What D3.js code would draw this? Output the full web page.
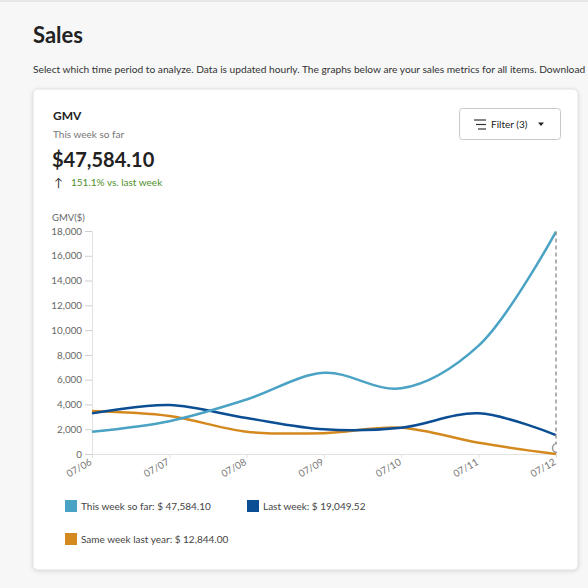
<!DOCTYPE html>
<html><head><meta charset="utf-8">
<script src="https://cdn.jsdelivr.net/npm/d3@7"></script>
<style>
html,body{margin:0;padding:0;background:#f7f7f7;}
svg{display:block;font-family:Lato,"Open Sans",sans-serif;}
</style></head>
<body>
<svg id="chart" width="588" height="588"></svg>
<script>
const dates = ["07/06","07/07","07/08","07/09","07/10","07/11","07/12"];
const thisWeek = [1800, 2650, 4400, 6550, 5300, 8750, 17950];
const lastWeek = [3280, 3950, 2900, 1990, 2120, 3280, 1530];
const lastYear = [3470, 3070, 1800, 1680, 2120, 900, 0];
const yTicks = [0,2000,4000,6000,8000,10000,12000,14000,16000,18000];
const seriesNames = ["This week so far: $ 47,584.10","Last week: $ 19,049.52","Same week last year: $ 12,844.00"];
const seriesColors = ["#4aa2c4","#0b4e93","#d4891f"];

const svg = d3.select("#chart");
svg.append("rect").attr("x",0).attr("y",0).attr("width",588).attr("height",2).attr("fill","#e6e6e6");
svg.append("text").attr("x",33).attr("y",43).attr("font-size",22).attr("font-weight",700).attr("fill","#222").text("Sales");
const sub = svg.append("text").attr("x",33).attr("y",73).attr("font-size",10.3).attr("fill","#333")
  .text("Select which time period to analyze. Data is updated hourly. The graphs below are your sales metrics for all items. Download");
const subLen = sub.node().getComputedTextLength();
if (subLen > 553) sub.attr("font-size", 10.3 * 553 / subLen);

svg.append("rect").attr("x",33).attr("y",89).attr("width",545).attr("height",481).attr("rx",5)
  .attr("fill","#fff").attr("stroke","#e3e3e3").attr("stroke-width",1)
  .style("filter","drop-shadow(0 1px 2px rgba(0,0,0,0.12))");

svg.append("text").attr("x",53).attr("y",120).attr("font-size",12).attr("font-weight",700).attr("fill","#222").text("GMV");
svg.append("text").attr("x",53).attr("y",138).attr("font-size",10).attr("fill","#777").text("This week so far");
svg.append("text").attr("x",52).attr("y",167).attr("font-size",20).attr("font-weight",700).attr("fill","#222").text("$47,584.10");
svg.append("text").attr("x",54).attr("y",187).attr("font-size",12).attr("fill","#333").text("↑");
svg.append("text").attr("x",71).attr("y",186).attr("font-size",10).attr("fill","#4f8f2a").text("151.1% vs. last week");

svg.append("rect").attr("x",459.5).attr("y",108.5).attr("width",101).attr("height",31).attr("rx",3)
  .attr("fill","#fff").attr("stroke","#c8c8c8");
[[474,486,120],[476,486,124.5],[478,486,129]].forEach(([a,b,y])=>{
  svg.append("line").attr("x1",a).attr("x2",b).attr("y1",y).attr("y2",y).attr("stroke","#333").attr("stroke-width",1.2);
});
svg.append("text").attr("x",491).attr("y",128).attr("font-size",10).attr("fill","#222").text("Filter (3)");
svg.append("path").attr("d","M538,122.5 L544,122.5 L541,126 Z").attr("fill","#222");

const x = d3.scalePoint().domain(dates).range([92,556]);
const y = d3.scaleLinear().domain([0,18000]).range([454,231]);

svg.append("text").attr("x",52).attr("y",221).attr("font-size",9.5).attr("fill","#666").text("GMV($)");

const yAxis = svg.append("g").attr("transform","translate(92,0)")
  .call(d3.axisLeft(y).tickValues(yTicks).tickSize(7).tickPadding(3).tickFormat(d3.format(",")));
yAxis.select(".domain").attr("stroke","#e2e2e2");
yAxis.selectAll(".tick line").attr("stroke","#cfcfcf");
yAxis.selectAll("text").attr("fill","#666").attr("font-size",9.8).attr("font-family","Lato,'Open Sans',sans-serif");

const xAxis = svg.append("g").attr("transform","translate(0,454)")
  .call(d3.axisBottom(x).tickSize(4).tickSizeOuter(0));
xAxis.select(".domain").attr("stroke","#e2e2e2");
xAxis.selectAll(".tick line").attr("stroke","#e2e2e2");
xAxis.selectAll("text").attr("fill","#777").attr("font-size",9.8).attr("font-family","Lato,'Open Sans',sans-serif")
  .attr("text-anchor","end").attr("dy",0).attr("y",0)
  .attr("transform","translate(0,10) rotate(-30)");

svg.append("defs").append("clipPath").attr("id","plotclip")
  .append("rect").attr("x",80).attr("y",220).attr("width",477).attr("height",240);

const line = d3.line().x((d,i)=>x(dates[i])).y(d=>y(d)).curve(d3.curveCatmullRom.alpha(0.5));
const plot = svg.append("g").attr("clip-path","url(#plotclip)");
[lastYear,lastWeek,thisWeek].forEach((s,k)=>{
  const c = [seriesColors[2],seriesColors[1],seriesColors[0]][k];
  plot.append("path").attr("d",line(s)).attr("fill","none").attr("stroke",c).attr("stroke-width",2.5);
});
plot.append("line").attr("x1",x("07/12")).attr("x2",x("07/12")).attr("y1",y(thisWeek[6])).attr("y2",454)
  .attr("stroke","#999").attr("stroke-width",1.5).attr("stroke-dasharray","4,3");
plot.append("circle").attr("cx",x("07/12")+1).attr("cy",448).attr("r",4.5).attr("fill","#fff").attr("stroke","#999").attr("stroke-width",1.5);

const legPos = [[65,500],[247,500],[65,533]];
seriesNames.forEach((n,i)=>{
  const [lx,ly] = legPos[i];
  svg.append("rect").attr("x",lx).attr("y",ly).attr("width",12).attr("height",12).attr("fill",seriesColors[i]);
  svg.append("text").attr("x",lx+16).attr("y",ly+10).attr("font-size",10).attr("fill","#444").text(n);
});
</script>
</body></html>
